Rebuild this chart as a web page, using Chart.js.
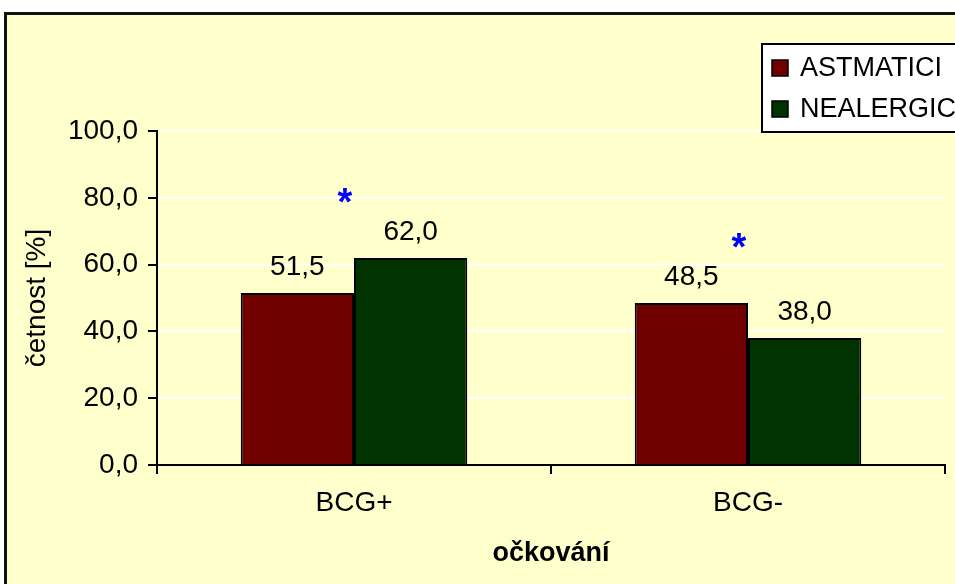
<!DOCTYPE html>
<html>
<head>
<meta charset="utf-8">
<script src="https://cdn.jsdelivr.net/npm/chart.js@4.4.0/dist/chart.umd.min.js"></script>
<style>
  html, body { margin: 0; padding: 0; background: #fff; }
  canvas { display: block; }
</style>
</head>
<body>
<canvas id="c" width="955" height="584"></canvas>
<script>
/* global Chart */
const categories = ['BCG+', 'BCG-'];
const seriesNames = ['ASTMATICI', 'NEALERGICI'];
const astmatici = [51.5, 48.5];
const nealergici = [62.0, 38.0];
const yTicks = [0, 20, 40, 60, 80, 100];
// significance marks: category index and height (in % units)
const starCategory = [0, 1];
const starValue = [80, 66.5];

const FONT = "'Liberation Sans', Arial, sans-serif";

function fmt(v) {
    return Number(v).toFixed(1).replace('.', ',');
}

const decor = {
    id: 'decor',
    beforeDraw(chart) {
        const ctx = chart.ctx;
        ctx.save();
        ctx.fillStyle = '#ffffff';
        ctx.fillRect(0, 0, chart.width, chart.height);
        ctx.fillStyle = '#FFFFCC';
        ctx.fillRect(5, 13, chart.width, chart.height);
        ctx.strokeStyle = '#111';
        ctx.lineWidth = 3;
        ctx.beginPath();
        ctx.moveTo(5.5, chart.height + 5);
        ctx.lineTo(5.5, 13.5);
        ctx.lineTo(chart.width + 5, 13.5);
        ctx.stroke();
        ctx.restore();
    },
    afterDatasetsDraw(chart) {
        const ctx = chart.ctx;
        const xs = chart.scales.x;
        const ys = chart.scales.y;
        ctx.save();

        // value labels
        ctx.fillStyle = '#000';
        ctx.font = '28px ' + FONT;
        ctx.textAlign = 'center';
        ctx.textBaseline = 'alphabetic';
        chart.data.datasets.forEach((ds, i) => {
            chart.getDatasetMeta(i).data.forEach((bar, j) => {
                ctx.fillText(fmt(ds.data[j]), bar.x, bar.y - 18);
            });
        });

        // asterisks
        ctx.fillStyle = '#0000FF';
        ctx.font = 'bold 38px ' + FONT;
        starCategory.forEach((c, k) => {
            const x = xs.getPixelForValue(c) - 9;
            const y = ys.getPixelForValue(starValue[k]) + 17;
            ctx.fillText('*', x, y);
        });

        // legend
        const lx = 762, ly = 44;
        ctx.fillStyle = '#fff';
        ctx.fillRect(lx, ly, 220, 88);
        ctx.strokeStyle = '#000';
        ctx.lineWidth = 2;
        ctx.strokeRect(lx, ly, 220, 88);
        ctx.font = '27px ' + FONT;
        ctx.textAlign = 'left';
        ctx.textBaseline = 'middle';
        chart.data.datasets.forEach((ds, i) => {
            const cy = 68 + i * 41;
            ctx.fillStyle = ds.backgroundColor;
            ctx.fillRect(772, cy - 8, 16, 16);
            ctx.lineWidth = 1.5;
            ctx.strokeRect(772, cy - 8, 16, 16);
            ctx.fillStyle = '#000';
            ctx.fillText(ds.label, 800, cy + 1);
        });
        ctx.restore();
    }
};

new Chart(document.getElementById('c'), {
    type: 'bar',
    data: {
        labels: categories,
        datasets: [
            { label: seriesNames[0], data: astmatici, backgroundColor: '#700000', borderColor: '#000', borderWidth: 2 },
            { label: seriesNames[1], data: nealergici, backgroundColor: '#003300', borderColor: '#000', borderWidth: 2 },
        ],
    },
    options: {
        responsive: false,
        animation: false,
        layout: { padding: { top: 131, right: 10, left: 0, bottom: 0 } },
        datasets: { bar: { categoryPercentage: 0.575, barPercentage: 1.0 } },
        plugins: {
            legend: { display: false },
            tooltip: { enabled: false },
        },
        scales: {
            x: {
                afterFit: (s) => { s.height = 119; },
                grid: { offset: true, drawOnChartArea: false, tickLength: 9, tickColor: '#000', lineWidth: 2 },
                border: { color: '#000', width: 2 },
                ticks: { color: '#000', font: { family: FONT, size: 28 }, padding: 12 },
                title: {
                    display: true,
                    text: 'očkování',
                    color: '#000',
                    font: { family: FONT, size: 27, weight: 'bold' },
                    padding: { top: 0, bottom: 14 },
                },
            },
            y: {
                min: 0,
                max: 100,
                afterFit: (s) => { s.width = 157; },
                afterBuildTicks: (s) => { s.ticks = yTicks.map(v => ({ value: v })); },
                grid: { color: '#ffffff', lineWidth: 2, tickLength: 9, tickColor: '#000' },
                border: { color: '#000', width: 2 },
                ticks: { color: '#000', font: { family: FONT, size: 28 }, padding: 10, callback: (v) => fmt(v) },
                title: {
                    display: true,
                    text: 'četnost [%]',
                    color: '#000',
                    font: { family: FONT, size: 28 },
                    padding: { top: 20, bottom: 0 },
                },
            },
        },
    },
    plugins: [decor],
});
</script>
</body>
</html>
